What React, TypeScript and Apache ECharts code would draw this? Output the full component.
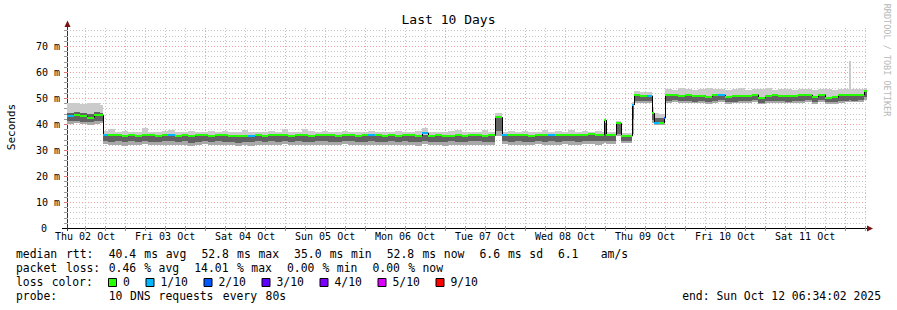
import React, { useEffect, useRef } from "react";
import * as echarts from "echarts";

// ---- time axis: hours after the start (Thu 02 Oct 06:34:02) ----
const END_HOUR = 240;
const FIRST_NOON = 5.43278; // Thu 02 Oct 12:00 in hours after start
const FIRST_SIX = 5.43278; // first 6-hour grid mark
const Y_MAX = 200 / 2.6; // top of the plot, ms

const dayLabels = [
  "Thu 02 Oct", "Fri 03 Oct", "Sat 04 Oct", "Sun 05 Oct", "Mon 06 Oct",
  "Tue 07 Oct", "Wed 08 Oct", "Thu 09 Oct", "Fri 10 Oct", "Sat 11 Oct",
];

// start hour of every sample
const hours = [
  0, 2, 4, 6, 8, 10,
  10.8, 12.4, 14.4, 16.4, 18.4, 20.4, 22.4, 24.4, 26.4, 28.4,
  30.4, 32.4, 34.4, 36.4, 38.4, 40.4, 42.4, 44.4, 46.4, 48.4,
  50.4, 52.4, 54.4, 56.4, 58.4, 60.4, 62.4, 64.4, 66.4, 68.4,
  70.4, 72.4, 74.4, 76.4, 78.4, 80.4, 82.4, 84.4, 86.4, 88.4,
  90.4, 92.4, 94.4, 96.4, 98.4, 100.4, 102.4, 104.4, 106.4, 108.4,
  110.4, 112.4, 114.4, 116.4, 118.4, 120.4, 122.4, 124.4, 126.4,
  128.4,
  130.5, 132.4, 134.4, 136.4, 138.4, 140.4, 142.4, 144.4, 146.4, 148.4,
  150.4, 152.4, 154.4, 156.4, 158.4, 160.4,
  161.2, 161.8, 164.7, 166.2, 169.5, 170.1, 172.0, 174.0, 175.5, 176.1, 177.6, 179.1,
  179.4, 181.4, 183.4, 185.4, 187.4, 189.4, 191.4, 193.4, 195.4, 197.4,
  199.4, 201.4, 203.4, 205.4, 207.4, 209.4, 211.4, 213.4, 215.4, 217.4,
  219.4, 221.4, 223.4, 225.4, 227.4, 229.4, 231.4, 233.4, 234.6, 235.2,
  237.2, 239.0,
];

// median rtt (ms)
const median = [
  43.1, 43.4, 43.2, 42.5, 43.3, 43.4,
  35.9, 35.6, 35.7, 35.3, 35.6, 35.5, 35.7, 35.6, 35.4, 35.6,
  35.8, 35.5, 35.6, 35.3, 35.7, 35.6, 35.5, 35.8, 35.6, 35.4,
  35.2, 35.5, 35.3, 35.6, 35.5, 35.7, 35.6, 35.6, 35.5, 35.7,
  35.6, 35.5, 35.6, 35.7, 35.6, 35.5, 35.6, 35.7, 35.5, 35.6,
  35.7, 35.6, 35.5, 35.6, 35.5, 35.7, 35.6, 35.4, 36.6, 35.5,
  35.6, 35.3, 35.5, 35.6, 35.4, 35.6, 35.7, 35.5, 35.6,
  42.6,
  35.8, 35.6, 35.7, 35.6, 35.5, 35.7, 35.6, 35.8, 35.6, 35.7,
  35.9, 35.7, 35.8, 36.0, 35.8, 35.9,
  41.5, 35.8, 40.3, 35.3, 47.3, 51.0, 50.6, 50.9, 44.2, 40.3, 40.4, 42.3,
  51.0, 51.2, 50.8, 51.0, 50.6, 50.9, 50.5, 51.1, 51.2, 50.5,
  50.6, 50.9, 50.8, 51.3, 50.0, 50.9, 51.0, 50.9, 50.6, 50.8,
  51.0, 51.2, 50.4, 51.3, 50.1, 50.2, 51.0, 51.1, 51.2, 51.2,
  51.2, 52.8,
];

// loss class of every sample (index into lossColors)
const lossIdx = [
  1, 0, 0, 0, 0, 0,
  1, 0, 0, 0, 0, 0, 0, 0, 0, 0,
  1, 0, 0, 0, 0, 0, 0, 0, 0, 0,
  0, 0, 1, 0, 0, 0, 0, 0, 0, 0,
  0, 0, 0, 0, 0, 0, 0, 0, 0, 0,
  1, 0, 0, 0, 0, 0, 0, 0, 1, 0,
  0, 0, 0, 0, 0, 0, 0, 0, 0,
  0,
  1, 0, 0, 0, 0, 0, 0, 1, 0, 0,
  0, 0, 0, 0, 0, 0,
  0, 0, 0, 0, 1, 0, 0, 1, 0, 1, 0, 2,
  0, 0, 0, 0, 0, 0, 0, 0, 1, 0,
  0, 0, 0, 0, 0, 0, 0, 0, 0, 0,
  0, 0, 0, 0, 0, 0, 0, 0, 0, 0,
  0, 0,
];

// smoke: lowest ping, lower edge of dense core, upper edge of dense core, highest ping (ms)
const smokeMin = [
  40.0, 40.2, 40.0, 39.7, 40.1, 40.3,
  32.3, 31.9, 32.1, 31.7, 32.0, 31.9, 32.2, 31.9, 31.8, 32.1,
  32.0, 31.9, 32.1, 31.6, 31.9, 32.2, 31.8, 32.0, 31.9, 31.8,
  31.6, 31.9, 31.7, 32.0, 31.9, 32.1, 31.9, 32.2, 31.8, 32.0,
  31.9, 31.8, 32.1, 32.0, 31.8, 31.9, 32.2, 32.0, 31.8, 31.9,
  32.1, 31.9, 31.8, 32.0, 31.8, 32.1, 31.9, 31.7, 32.3, 31.8,
  31.9, 31.7, 32.0, 31.9, 31.8, 32.0, 32.1, 31.8, 31.9,
  35.5,
  32.2, 32.0, 32.1, 31.9, 32.0, 32.2, 31.9, 32.1, 32.0, 32.3,
  32.1, 32.0, 32.2, 32.3, 32.1, 32.2,
  32.6, 32.5, 35.3, 32.6, 36.0, 48.0, 48.0, 48.2, 40.5, 39.6, 39.7, 39.6,
  48.1, 48.3, 48.0, 48.2, 47.9, 48.1, 47.8, 48.2, 48.3, 47.8,
  47.9, 48.1, 48.0, 48.4, 47.6, 48.1, 48.2, 48.1, 47.9, 48.0,
  48.2, 48.3, 47.7, 48.4, 47.6, 47.7, 48.2, 48.3, 48.3, 48.3,
  48.4, 49.2,
];
const smokeLow = [
  41.0, 41.1, 40.8, 40.6, 41.0, 41.2,
  33.6, 33.2, 33.4, 32.9, 33.3, 33.1, 33.5, 33.2, 33.0, 33.4,
  33.3, 33.1, 33.4, 32.8, 33.2, 33.5, 33.1, 33.3, 33.2, 33.0,
  32.8, 33.2, 32.9, 33.3, 33.1, 33.4, 33.2, 33.5, 33.1, 33.3,
  33.2, 33.0, 33.4, 33.3, 33.1, 33.2, 33.5, 33.3, 33.0, 33.2,
  33.4, 33.2, 33.1, 33.3, 33.0, 33.4, 33.2, 32.9, 33.6, 33.1,
  33.2, 32.9, 33.3, 33.2, 33.0, 33.3, 33.4, 33.1, 33.2,
  37.5,
  33.4, 33.2, 33.3, 33.1, 33.2, 33.4, 33.1, 33.3, 33.2, 33.5,
  33.3, 33.2, 33.4, 33.5, 33.3, 33.4,
  33.4, 33.4, 36.2, 33.5, 42.0, 49.0, 48.8, 49.0, 41.5, 40.4, 40.5, 40.4,
  48.9, 49.1, 48.7, 48.9, 48.6, 48.8, 48.5, 49.0, 49.1, 48.5,
  48.6, 48.8, 48.7, 49.2, 48.2, 48.8, 48.9, 48.8, 48.6, 48.7,
  48.9, 49.1, 48.4, 49.2, 48.3, 48.4, 48.9, 49.0, 49.1, 49.0,
  49.1, 50.2,
];
const smokeHigh = [
  44.3, 44.6, 44.2, 44.0, 44.5, 44.4,
  35.5, 35.3, 35.4, 35.0, 35.3, 35.2, 35.4, 35.3, 35.1, 35.3,
  35.5, 35.2, 35.3, 35.0, 35.4, 35.3, 35.2, 35.5, 35.3, 35.1,
  34.9, 35.2, 35.0, 35.3, 35.2, 35.4, 35.3, 35.3, 35.2, 35.4,
  35.3, 35.2, 35.3, 35.4, 35.3, 35.2, 35.3, 35.4, 35.2, 35.3,
  35.4, 35.3, 35.2, 35.3, 35.2, 35.4, 35.3, 35.1, 35.6, 35.2,
  35.3, 35.0, 35.2, 35.3, 35.1, 35.3, 35.4, 35.2, 35.3,
  42.2,
  35.5, 35.3, 35.4, 35.3, 35.2, 35.4, 35.3, 35.5, 35.3, 35.4,
  35.6, 35.4, 35.5, 35.7, 35.5, 35.6,
  40.5, 35.6, 40.0, 35.1, 47.0, 50.8, 50.4, 50.7, 44.0, 42.2, 42.3, 42.2,
  50.7, 50.9, 50.5, 50.7, 50.3, 50.6, 50.2, 50.8, 50.9, 50.2,
  50.3, 50.6, 50.5, 51.0, 49.8, 50.6, 50.7, 50.6, 50.3, 50.5,
  50.7, 50.9, 50.1, 51.0, 49.9, 50.0, 50.7, 50.8, 50.9, 50.9,
  50.9, 52.2,
];
const smokeMax = [
  48.0, 48.2, 47.6, 47.9, 48.2, 47.5,
  37.2, 38.2, 37.0, 37.4, 36.9, 37.1, 38.3, 37.0, 36.9, 37.2,
  37.8, 37.0, 36.9, 37.3, 37.1, 36.9, 37.5, 37.0, 37.2, 36.9,
  37.1, 37.6, 37.0, 36.9, 37.1, 37.4, 37.0, 38.0, 37.1, 37.0,
  37.9, 37.2, 36.9, 37.3, 37.1, 37.0, 37.2, 36.9, 37.1, 37.0,
  37.2, 36.9, 37.1, 37.0, 37.3, 37.1, 36.9, 37.4, 38.4, 37.0,
  37.1, 37.0, 37.2, 37.6, 37.0, 36.9, 37.1, 37.7, 37.0,
  44.2,
  37.0, 37.2, 36.9, 37.4, 37.1, 36.9, 37.6, 37.0, 37.2, 37.1,
  37.8, 37.0, 37.3, 37.1, 37.4, 37.0,
  42.0, 36.8, 41.0, 36.6, 48.5, 52.6, 52.3, 52.5, 46.5, 44.2, 43.8, 44.0,
  53.6, 53.2, 53.8, 53.4, 53.1, 53.5, 53.9, 53.3, 53.6, 53.2,
  53.4, 53.7, 53.1, 53.5, 53.3, 53.8, 53.2, 53.6, 53.4, 53.1,
  53.5, 53.3, 53.2, 53.6, 53.4, 53.0, 53.3, 53.5, 64.2, 53.6,
  53.4, 54.0,
];

const lossLabels = ["0", "1/10", "2/10", "3/10", "4/10", "5/10", "9/10"];
const lossColors = ["#26ff00", "#00b8ff", "#0059ff", "#5e00ff", "#7e00ff", "#dd00ff", "#ff0000"];

const legendRow1 = "median rtt:  40.4 ms avg  52.8 ms max  35.0 ms min  52.8 ms now  6.6 ms sd  6.1   am/s";
const legendRow2 = "packet loss: 0.46 % avg  14.01 % max  0.00 % min  0.00 % now";
const legendRow3 = "loss color:";
const legendRow4 = "probe:       10 DNS requests every 80s";
const endText = "end: Sun Oct 12 06:34:02 2025";
const titleText = "Last 10 Days";
const yAxisTitle = "Seconds";
const watermark = "RRDTOOL / TOBI OETIKER";

const MONO = "DejaVu Sans Mono";
const GRID_MINOR = "#c6c6c6";
const GRID_MAJOR = "#f2a0a0";
const ARROW = "#7a1010";

function buildOption() {
  const n = Math.min(hours.length, median.length, lossIdx.length, smokeMin.length,
    smokeLow.length, smokeHigh.length, smokeMax.length);
  const smokeData: number[][] = [];
  const medianData: number[][] = [];
  for (let i = 0; i < n; i++) {
    const t1 = i + 1 < n ? hours[i + 1] : END_HOUR;
    smokeData.push([hours[i], t1, smokeMin[i], smokeLow[i], smokeHigh[i], smokeMax[i]]);
    medianData.push([hours[i], t1, median[i], lossIdx[i], i > 0 ? median[i - 1] : median[i]]);
  }

  // grid lines: [orientation (0 vertical / 1 horizontal), value, major]
  const gridData: number[][] = [];
  for (let k = 0; ; k++) {
    const h = FIRST_SIX + 6 * k;
    if (h >= END_HOUR) break;
    gridData.push([0, h, k % 4 === 2 ? 1 : 0]);
  }
  for (let v = 2; v < Y_MAX; v += 2) gridData.push([1, v, v % 10 === 0 ? 1 : 0]);

  const noonHours = dayLabels.map((_, i) => FIRST_NOON + 24 * i);

  const CH = 7.13;
  const LX = 16;
  const txt = (text: string, x: number, y: number, extra: any = {}) => ({
    type: "text",
    x,
    y,
    silent: true,
    ...extra,
    style: {
      text,
      fill: extra.fill || "#000",
      fontFamily: MONO,
      fontSize: extra.fontSize || 11.4,
      align: extra.align || "left",
      verticalAlign: "middle",
      textAlign: extra.align || "left",
      textVerticalAlign: "middle",
    },
  });
  const rowWords = (str: string, y: number) => {
    const out: any[] = [];
    const re = /\S+/g;
    let m: RegExpExecArray | null;
    while ((m = re.exec(str))) out.push(txt(m[0], LX + m.index * CH, y));
    return out;
  };

  const graphics: any[] = [
    txt(titleText, 448.5, 19, { fontSize: 13, align: "center" }),
    { ...txt(yAxisTitle, 11, 127, { fontSize: 11, align: "center" }), rotation: Math.PI / 2 },
    { ...txt(watermark, 887, 60, { fontSize: 8.5, align: "center", fill: "#b8b8b8" }), rotation: -Math.PI / 2 },
    ...rowWords(legendRow1, 254),
    ...rowWords(legendRow2, 268),
    ...rowWords(legendRow3, 282),
    ...rowWords(legendRow4, 296),
    txt(endText, 881, 296, { align: "right" }),
    // axis decorations
    { type: "line", silent: true, shape: { x1: 62, y1: 228.5, x2: 868, y2: 228.5 }, style: { stroke: "#000", lineWidth: 1 } },
    { type: "line", silent: true, shape: { x1: 67.5, y1: 24, x2: 67.5, y2: 231 }, style: { stroke: "#333", lineWidth: 1 } },
    { type: "polygon", silent: true, shape: { points: [[867, 225.5], [873, 228.5], [867, 231.5]] }, style: { fill: ARROW } },
    { type: "polygon", silent: true, shape: { points: [[64.5, 27], [67.5, 20.5], [70.5, 27]] }, style: { fill: ARROW } },
  ];
  lossLabels.forEach((lab, i) => {
    const bx = 108.5 + (i === 0 ? 0 : 37.5 + (i - 1) * 58);
    graphics.push({
      type: "rect",
      silent: true,
      shape: { x: bx, y: 278.5, width: 8, height: 8 },
      style: { fill: lossColors[i], stroke: "#000", lineWidth: 1 },
    });
    graphics.push(txt(lab, bx + 14.5, 282));
  });

  return {
    animation: false,
    backgroundColor: "#ffffff",
    grid: { left: 67, top: 28, width: 800, height: 200, containLabel: false },
    xAxis: {
      type: "value",
      min: 0,
      max: END_HOUR,
      axisLine: { show: false },
      axisTick: { show: false },
      splitLine: { show: false },
      axisLabel: {
        customValues: noonHours,
        formatter: (v: number) => dayLabels[Math.round((v - FIRST_NOON) / 24)] ?? "",
        fontFamily: MONO,
        fontSize: 10,
        color: "#000",
        margin: 3,
      },
    },
    yAxis: {
      type: "value",
      min: 0,
      max: Y_MAX,
      interval: 10,
      axisLine: { show: false },
      axisTick: { show: false },
      splitLine: { show: false },
      axisLabel: {
        showMaxLabel: false,
        formatter: (v: number) => (v > 71 ? "" : v === 0 ? "{z|0}" : `${v} m`),
        fontFamily: MONO,
        fontSize: 10,
        color: "#000",
        margin: 7,
        rich: { z: { fontFamily: MONO, fontSize: 10, color: "#000", padding: [0, 13, 0, 0] } },
      },
    },
    graphic: { elements: graphics },
    series: [
      {
        type: "custom",
        name: "grid",
        silent: true,
        z: 1,
        clip: false,
        data: gridData,
        renderItem: (_p: any, api: any) => {
          const o = api.value(0);
          const v = api.value(1);
          const major = api.value(2) === 1;
          if (o === 0) {
            const x = Math.round(api.coord([v, 0])[0]) + 0.5;
            const yb = api.coord([v, 0])[1];
            const yt = api.coord([v, Y_MAX])[1];
            return {
              type: "group",
              children: [
                { type: "line", shape: { x1: x, y1: yt, x2: x, y2: yb }, style: { stroke: major ? GRID_MAJOR : GRID_MINOR, lineWidth: 1, lineDash: [1, 2] } },
                { type: "line", shape: { x1: x, y1: yb - 2, x2: x, y2: yb + 3 }, style: { stroke: major ? "#e07070" : "#999999", lineWidth: 1 } },
              ],
            };
          }
          const y = Math.round(api.coord([0, v])[1]) + 0.5;
          const xl = api.coord([0, v])[0];
          const xr = api.coord([END_HOUR, v])[0];
          return {
            type: "group",
            children: [
              { type: "line", shape: { x1: xl, y1: y, x2: xr, y2: y }, style: { stroke: major ? GRID_MAJOR : GRID_MINOR, lineWidth: 1, lineDash: [1, 2] } },
              { type: "line", shape: { x1: xl - 3, y1: y, x2: xl, y2: y }, style: { stroke: major ? "#e07070" : "#999999", lineWidth: 1 } },
            ],
          };
        },
      },
      {
        type: "custom",
        name: "smoke",
        silent: true,
        z: 2,
        data: smokeData,
        encode: { x: [0, 1], y: [2, 3, 4, 5] },
        renderItem: (_p: any, api: any) => {
          const t0 = api.value(0);
          const t1 = api.value(1);
          const x0 = Math.round(api.coord([t0, 0])[0]);
          const x1 = Math.round(api.coord([t1, 0])[0]);
          const w = x1 - x0;
          if (w <= 0) return null;
          const yMin = Math.round(api.coord([t0, api.value(2)])[1]);
          const yLow = Math.round(api.coord([t0, api.value(3)])[1]);
          const yHigh = Math.round(api.coord([t0, api.value(4)])[1]);
          const yMax = Math.round(api.coord([t0, api.value(5)])[1]);
          return {
            type: "group",
            children: [
              { type: "rect", shape: { x: x0, y: yMax, width: w, height: yHigh - yMax }, style: { fill: "#cbcbcb" } },
              { type: "rect", shape: { x: x0, y: yHigh, width: w, height: yLow - yHigh }, style: { fill: "#626262" } },
              { type: "rect", shape: { x: x0, y: yLow, width: w, height: yMin - yLow }, style: { fill: "#a8a8a8" } },
            ],
          };
        },
      },
      {
        type: "custom",
        name: "median",
        silent: true,
        z: 3,
        data: medianData,
        encode: { x: [0, 1], y: [2] },
        renderItem: (_p: any, api: any) => {
          const t0 = api.value(0);
          const t1 = api.value(1);
          const x0 = Math.round(api.coord([t0, 0])[0]);
          const x1 = Math.round(api.coord([t1, 0])[0]);
          const y = api.coord([t0, api.value(2)])[1];
          const yPrev = api.coord([t0, api.value(4)])[1];
          const color = lossColors[api.value(3)] || lossColors[0];
          return {
            type: "group",
            children: [
              { type: "line", shape: { x1: x0 + 0.5, y1: yPrev, x2: x0 + 0.5, y2: y }, style: { stroke: "#000", lineWidth: 1 } },
              { type: "rect", shape: { x: x0, y: Math.round(y) - 1, width: Math.max(1, x1 - x0), height: 2 }, style: { fill: color } },
            ],
          };
        },
      },
    ],
  };
}

export default function App() {
  const ref = useRef<HTMLDivElement>(null);
  useEffect(() => {
    document.body.style.margin = "0";
    if (!ref.current) return;
    const chart = echarts.init(ref.current, null, { renderer: "svg" });
    chart.setOption(buildOption() as any);
    return () => chart.dispose();
  }, []);
  return <div ref={ref} style={{ width: 897, height: 310, background: "#fff" }} />;
}
